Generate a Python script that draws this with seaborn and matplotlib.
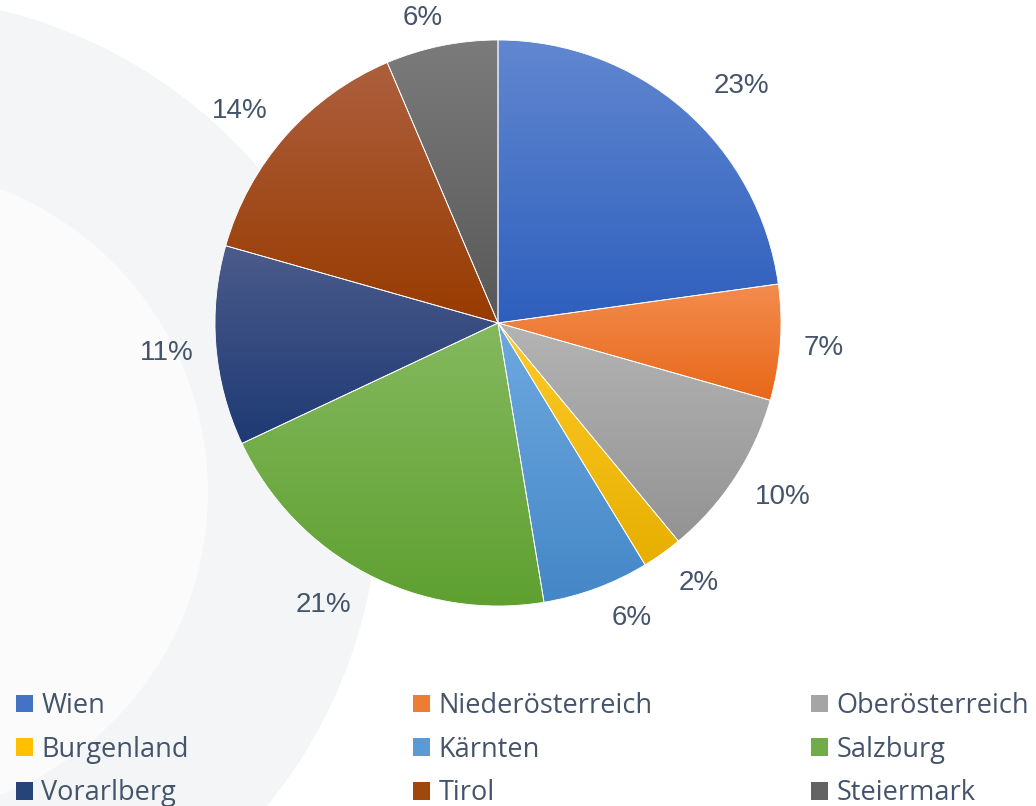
import numpy as np
import matplotlib
matplotlib.use("Agg")
import matplotlib.pyplot as plt
import seaborn as sns
from matplotlib.colors import LinearSegmentedColormap
from matplotlib.patches import Patch, Circle

# Anteile je Bundesland (Prozent), im Uhrzeigersinn ab 12 Uhr
regions = ["Wien", "Niederösterreich", "Oberösterreich", "Burgenland", "Kärnten",
           "Salzburg", "Vorarlberg", "Tirol", "Steiermark"]
shares = [22.8, 6.6, 9.6, 2.3, 6.1, 20.6, 11.4, 14.2, 6.4]

# Verlauf je Segment: hell (oben) -> dunkel (unten)
top_colors = ["#6187d0", "#f38c4f", "#b4b4b4", "#ffca28", "#6ea9e0",
              "#84b95e", "#4c5b8b", "#ad5f3e", "#7b7b7b"]
bottom_colors = ["#2e5fbe", "#e86819", "#939393", "#e6af00", "#4487c7",
                 "#5fa031", "#1e3a74", "#983b00", "#585858"]
base_colors = ["#4472c4", "#ed7d31", "#a5a5a5", "#ffc000", "#5b9bd5",
               "#70ad47", "#264478", "#9e480e", "#636363"]

# Lage der Prozentangaben: Abstand (in Radien) und Drehung im Uhrzeigersinn (Grad)
label_dist = [1.2, 1.155, 1.18, 1.16, 1.145, 1.17, 1.175, 1.18, 1.11]
label_shift = [4.7, 0.4, -1.7, -2.3, -4.0, 4.0, -0.5, -2.0, -2.3]

text_color = "#44546a"

sns.set_theme(style="white")
plt.rcParams["font.family"] = ["Liberation Sans", "DejaVu Sans"]

W, H = 1036, 806
fig = plt.figure(figsize=(W / 100, H / 100), dpi=100)
fig.patch.set_facecolor("white")

# dezentes Wasserzeichen im Hintergrund
bg = fig.add_axes([0, 0, 1, 1], zorder=0)
bg.set_xlim(0, W)
bg.set_ylim(H, 0)
bg.set_aspect("equal")
bg.axis("off")
bg.add_patch(Circle((-117, 492), 496, color="#f4f5f7", lw=0))
bg.add_patch(Circle((-117, 492), 325, color="#fbfbfc", lw=0))

# Kreisdiagramm
cx, cy, r = 498, 323, 283
ax = fig.add_axes([(cx - r) / W, (H - cy - r) / H, 2 * r / W, 2 * r / H], zorder=1)
ax.patch.set_alpha(0)

wedges, _, autotexts = ax.pie(
    shares, startangle=90, counterclock=False, radius=1,
    colors=base_colors, autopct="%.0f%%", pctdistance=1.17,
    wedgeprops=dict(edgecolor="white", linewidth=0.6),
    textprops=dict(color=text_color, fontsize=20),
)

for w, t, d, s in zip(wedges, autotexts, label_dist, label_shift):
    a = np.deg2rad((w.theta1 + w.theta2) / 2 - s)
    t.set_position((d * np.cos(a), d * np.sin(a)))

for w, c_top, c_bot in zip(wedges, top_colors, bottom_colors):
    x0, y0, x1, y1 = w.get_path().get_extents().extents
    cmap = LinearSegmentedColormap.from_list("grad", [c_top, c_bot])
    grad = np.linspace(0, 1, 256).reshape(-1, 1)
    im = ax.imshow(grad, cmap=cmap, extent=[x0, x1, y0, y1], origin="upper",
                   aspect="auto", zorder=1, interpolation="bilinear")
    im.set_clip_path(w)
    w.set_facecolor("none")
    w.set_zorder(2)

ax.set_xlim(-1, 1)
ax.set_ylim(-1, 1)
ax.set_aspect("equal")
ax.axis("off")

# Legende: drei Spalten, zeilenweise gefüllt
handles = [Patch(facecolor=c, edgecolor="none") for c in base_colors]
col_x = [16, 413, 811]
for k, x in enumerate(col_x):
    idx = [k, k + 3, k + 6]
    leg = fig.legend([handles[i] for i in idx], [regions[i] for i in idx],
                     loc="upper left", bbox_to_anchor=(x / W, 1 - 692 / H),
                     frameon=False, borderpad=0, borderaxespad=0,
                     handlelength=0.64, handleheight=0.64, handletextpad=0.3,
                     labelspacing=0.58,
                     prop=dict(family=["Open Sans", "DejaVu Sans"], size=19.5))
    for t in leg.get_texts():
        t.set_color(text_color)

fig.savefig("out.png", dpi=100, facecolor="white")
